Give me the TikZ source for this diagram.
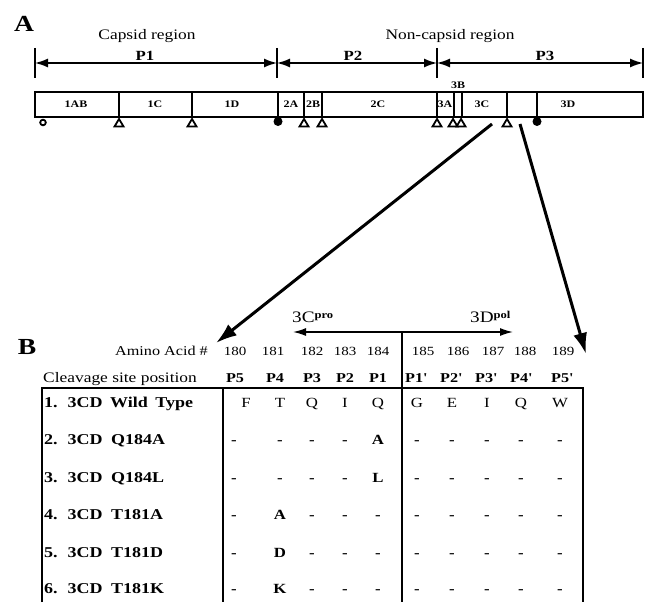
\documentclass[tikz,border=0pt]{standalone}
\usepackage{fontspec}
\setmainfont{Liberation Serif}[FakeStretch=1.2]
\usetikzlibrary{arrows.meta}
\begin{document}
\begin{tikzpicture}[x=1pt,y=-1pt,
  txt/.style={inner sep=0pt,anchor=base},
  big/.style={txt,font=\fontsize{23}{25}\selectfont\bfseries},
  reg/.style={txt,font=\fontsize{14}{16}\selectfont},
  ph/.style={txt,font=\fontsize{14}{16}\selectfont\bfseries},
  seg/.style={txt,font=\fontsize{10}{11}\selectfont\bfseries},
  num/.style={txt,font=\fontsize{12.5}{14}\selectfont},
  hd/.style={txt,font=\fontsize{13.5}{15}\selectfont\bfseries},
  cell/.style={txt,font=\fontsize{14}{15}\selectfont},
  bcell/.style={txt,font=\fontsize{14}{15}\selectfont\bfseries},
  rowlab/.style={inner sep=0pt,anchor=base west,font=\fontsize{15}{16}\selectfont\bfseries},
  spanarrow/.style={line width=1.5pt,{Latex[length=13pt,width=9pt]}-{Latex[length=13pt,width=9pt]}},
  tickline/.style={line width=1.1pt},
  barline/.style={line width=1.3pt},
  cmark/.style={line width=1.8pt,fill=white},
  bigarrow/.style={line width=3pt,-{Latex[length=21pt,width=14pt]}},
  tline/.style={line width=1.5pt}
]
\useasboundingbox (0,0) rectangle (652,602);

% ---------- Panel A ----------
\node[big] (A) at (24,31) {A};
\node[reg,font=\fontsize{14.5}{16}\selectfont] (caps) at (147,40) {Capsid region};
\node[reg,font=\fontsize{14.5}{16}\selectfont] (noncaps) at (450,40) {Non-capsid region};
\node[ph] (p1) at (145,60) {P1};
\node[ph] (p2) at (353,60) {P2};
\node[ph] (p3) at (545,60) {P3};

\foreach \x [count=\k] in {35,277,437,643}{
  \coordinate (t\k top) at (\x,48);
  \coordinate (t\k bot) at (\x,78);
  \coordinate (t\k) at (\x,63);
  \draw[tickline] (t\k top) -- (t\k bot);
}
\draw[spanarrow] (t1) -- (t2);
\draw[spanarrow] (t2) -- (t3);
\draw[spanarrow] (t3) -- (t4);

% genome bar
\draw[barline] (35,92) rectangle (643,117);
\foreach \x in {119,192,278,304,322,437,454,462,507,537}{
  \draw[barline] (\x,92) -- (\x,117);
}
\node[seg] (s1AB) at (76,107) {1AB};
\node[seg] (s1C) at (155,107) {1C};
\node[seg] (s1D) at (232,107) {1D};
\node[seg] (s2A) at (291,107) {2A};
\node[seg] (s2B) at (313,107) {2B};
\node[seg] (s2C) at (378,107) {2C};
\node[seg] (s3A) at (445,107) {3A};
\node[seg] (s3B) at (458,88) {3B};
\node[seg] (s3C) at (482,107) {3C};
\node[seg] (s3D) at (568,107) {3D};

% cleavage markers
\draw[cmark] (43,122.5) circle (2.8);
\foreach \x in {119,192,304,322,437,453,461,507}{
  \draw[cmark,line join=miter] (\x-4.5,126.5) -- (\x+4.5,126.5) -- (\x,119) -- cycle;
}
\fill (278,121.5) circle (4.5);
\fill (537,121.5) circle (4.5);

% zoom arrows
\coordinate (z1s) at (492,124);
\coordinate (z1e) at (216,343);
\coordinate (z2s) at (520,124);
\coordinate (z2e) at (586,354);
\draw[bigarrow] (z1s) -- (z1e);
\draw[bigarrow] (z2s) -- (z2e);

% ---------- Panel B ----------
\node[big] (B) at (27,354) {B};

\node[reg,font=\fontsize{13.5}{15}\selectfont,anchor=base east] (aa) at (208,355) {Amino Acid \#};
\node[reg,font=\fontsize{14.5}{16}\selectfont,anchor=base west] (cs) at (43,382) {Cleavage site position};

% 3Cpro / 3Dpol arrow
\coordinate (pl) at (293,332);
\coordinate (pr) at (513,332);
\draw[line width=1.5pt,{Latex[length=13pt,width=8pt]}-{Latex[length=13pt,width=8pt]}] (pl) -- (pr);
\node[reg,font=\fontsize{16}{16}\selectfont,anchor=base west] (cpro) at (292,322)
  {3C\raisebox{4pt}{\fontsize{10.5}{10}\selectfont\bfseries pro}};
\node[reg,font=\fontsize{16}{16}\selectfont,anchor=base west] (dpol) at (470,322)
  {3D\raisebox{4pt}{\fontsize{10.5}{10}\selectfont\bfseries pol}};

\foreach \x/\n in {235/180,273/181,312/182,345/183,378/184,423/185,458/186,493/187,525/188,563/189}{
  \node[num] (n\n) at (\x,355) {\n};
}
\foreach \x/\t [count=\k] in {235/P5,275/P4,312/P3,345/P2,378/P1}{
  \node[hd] (h\k) at (\x,382) {\t};
}
\foreach \x/\t [count=\k from 6] in {416/P1,451/P2,486/P3,521/P4,562/P5}{
  \node[hd] (h\k) at (\x,382) {\t\textquotesingle};
}

% table lines
\draw[tline] (42,602) -- (42,388) -- (583,388) -- (583,602);
\draw[tline] (223,388) -- (223,602);
\draw[tline] (402,332) -- (402,602);

% row labels
\foreach \y/\t [count=\r] in {407/{1.\hspace{10pt}3CD\hspace{3pt} Wild\hspace{3pt} Type},444/{2.\hspace{10pt}3CD\hspace{4pt} Q184A},482/{3.\hspace{10pt}3CD\hspace{4pt} Q184L},519/{4.\hspace{10pt}3CD\hspace{4pt} T181A},557/{5.\hspace{10pt}3CD\hspace{4pt} T181D},593/{6.\hspace{10pt}3CD\hspace{4pt} T181K}}{
  \node[rowlab] (lab\r) at (44,\y) {\t};
}

% row 1 (wild type)
\foreach \x/\t [count=\k] in {246/F,280/T,312/Q,345/I,378/Q,417/G,452/E,487/I,521/Q,560/W}{
  \node[cell] (r1c\k) at (\x,407) {\t};
}
% rows 2-6
\foreach \y/\a/\b/\c/\d/\e [count=\rr] in {444/-/-/-/-/A,482/-/-/-/-/L,519/-/A/-/-/-,557/-/D/-/-/-,593/-/K/-/-/-}{
  \pgfmathtruncatemacro{\r}{\rr+1}
  \node[bcell] (r\r c1) at (234,\y) {\a};
  \node[bcell] (r\r c2) at (280,\y) {\b};
  \node[bcell] (r\r c3) at (312,\y) {\c};
  \node[bcell] (r\r c4) at (345,\y) {\d};
  \node[bcell] (r\r c5) at (378,\y) {\e};
  \foreach \x [count=\k from 6] in {417,452,487,521,560}{
    \node[bcell] (r\r c\k) at (\x,\y) {-};
  }
}
\end{tikzpicture}
\end{document}
